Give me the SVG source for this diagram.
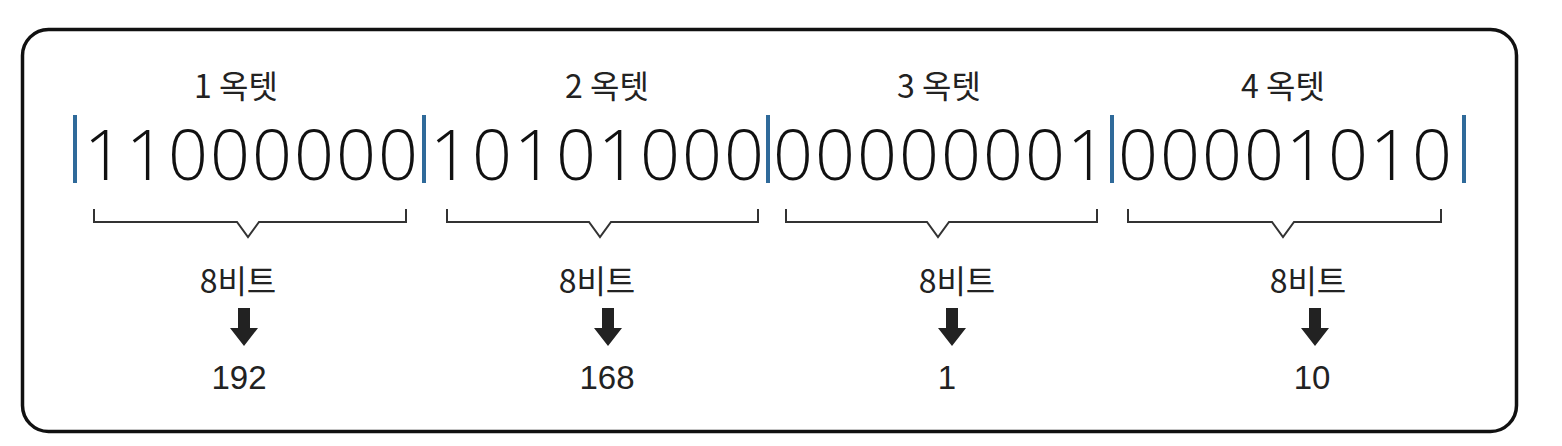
<svg xmlns="http://www.w3.org/2000/svg" width="1562" height="446" viewBox="0 0 1562 446">
<style>
.bin{font-family:"Open Sans","Liberation Sans",sans-serif;font-weight:300;font-size:70px;fill:#111;text-anchor:middle}
.lbl{font-family:"Noto Sans CJK KR","Liberation Sans",sans-serif;font-size:32px;fill:#222;text-anchor:middle}
.val{font-family:"Liberation Sans","Noto Sans CJK KR",sans-serif;font-size:33px;fill:#222;text-anchor:middle}
.bar{stroke:#2f6a9a;stroke-width:4}
.brace{fill:none;stroke:#333;stroke-width:2}
.arrow{fill:#222}
</style>
<defs>
<path id="arr" d="M-6,0 H6 V20 H14 L0,38 L-14,20 H-6 Z"/>
</defs>
<rect id="frame" x="22.5" y="29.5" width="1494" height="402" rx="26" ry="26" fill="#fff" stroke="#111" stroke-width="3.5"/>
<g id="bars">
<line class="bar" x1="75" y1="115" x2="75" y2="183"/>
<line class="bar" x1="424" y1="115" x2="424" y2="183"/>
<line class="bar" x1="768" y1="115" x2="768" y2="183"/>
<line class="bar" x1="1112" y1="115" x2="1112" y2="183"/>
<line class="bar" x1="1464" y1="115" x2="1464" y2="183"/>
</g>
<g id="octet1">
<text class="lbl" x="236" y="98">1 옥텟</text>
<text class="bin" x="251" y="180" textLength="334" lengthAdjust="spacing">11000000</text>
</g>
<g id="octet2">
<text class="lbl" x="607" y="98">2 옥텟</text>
<text class="bin" x="597" y="180" textLength="334" lengthAdjust="spacing">10101000</text>
</g>
<g id="octet3">
<text class="lbl" x="939" y="98">3 옥텟</text>
<text class="bin" x="940" y="180" textLength="334" lengthAdjust="spacing">00000001</text>
</g>
<g id="octet4">
<text class="lbl" x="1283" y="98">4 옥텟</text>
<text class="bin" x="1285" y="180" textLength="334" lengthAdjust="spacing">00001010</text>
</g>
<g id="connectors">
<path class="brace" d="M94,209 V222 H237 L248,237 L259,222 H406 V209"/>
<path class="brace" d="M447,209 V222 H589 L600,237 L611,222 H758 V209"/>
<path class="brace" d="M786,209 V222 H927 L938,237 L949,222 H1097 V209"/>
<path class="brace" d="M1128,209 V222 H1272 L1283,237 L1294,222 H1441 V209"/>
<use class="arrow" href="#arr" x="244" y="308"/>
<use class="arrow" href="#arr" x="608" y="308"/>
<use class="arrow" href="#arr" x="952" y="308"/>
<use class="arrow" href="#arr" x="1315" y="308"/>
</g>
<g id="bits1"><text class="lbl" x="238" y="293">8비트</text><text class="val" x="239" y="389">192</text></g>
<g id="bits2"><text class="lbl" x="597" y="293">8비트</text><text class="val" x="607" y="389">168</text></g>
<g id="bits3"><text class="lbl" x="957" y="293">8비트</text><text class="val" x="947" y="389">1</text></g>
<g id="bits4"><text class="lbl" x="1308" y="293">8비트</text><text class="val" x="1312" y="389">10</text></g>
</svg>
